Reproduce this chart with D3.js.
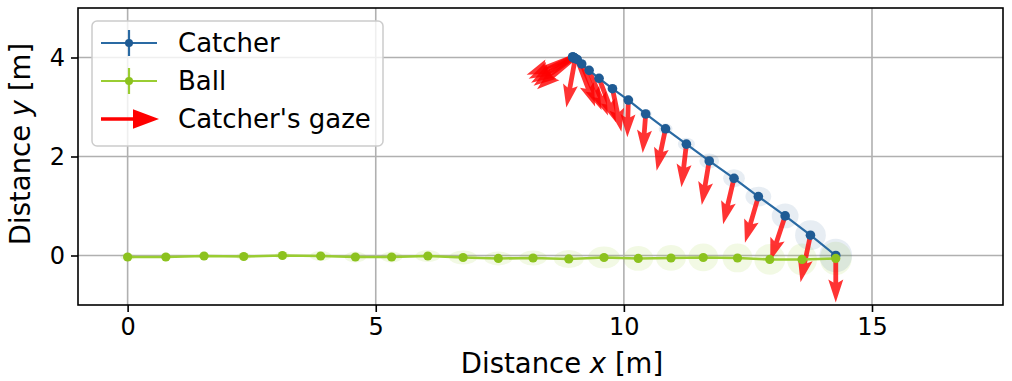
<!DOCTYPE html>
<html>
<head>
<meta charset="utf-8">
<script src="https://cdn.jsdelivr.net/npm/d3@7"></script>
<style>
  html, body { margin: 0; padding: 0; background: #fff; }
  svg { display: block; font-family: "DejaVu Sans", sans-serif; }
</style>
</head>
<body>
<svg id="chart" width="1012" height="381"></svg>
<script>
// Catcher track (m), with positional uncertainty (m)
const catcherX = [8.97, 8.97, 8.98, 8.99, 9.00, 9.02, 9.06, 9.15, 9.30, 9.50, 9.77, 10.09, 10.44, 10.84, 11.26, 11.72, 12.22, 12.71, 13.25, 13.76, 14.27];
const catcherY = [4.01, 4.01, 4.00, 4.00, 3.99, 3.98, 3.96, 3.87, 3.74, 3.58, 3.37, 3.14, 2.86, 2.56, 2.25, 1.91, 1.56, 1.19, 0.80, 0.41, 0.00];
const catcherSdX = [0.04, 0.04, 0.04, 0.05, 0.05, 0.06, 0.06, 0.07, 0.08, 0.09, 0.10, 0.11, 0.12, 0.14, 0.17, 0.20, 0.22, 0.26, 0.27, 0.31, 0.33];
const catcherSdY = [0.04, 0.04, 0.04, 0.05, 0.05, 0.06, 0.06, 0.07, 0.08, 0.08, 0.08, 0.09, 0.10, 0.11, 0.13, 0.15, 0.18, 0.20, 0.25, 0.30, 0.34];

// Ball track (m), with positional uncertainty (m)
const ballX = [0.00, 0.77, 1.54, 2.34, 3.12, 3.89, 4.59, 5.32, 6.05, 6.76, 7.47, 8.17, 8.89, 9.60, 10.29, 10.95, 11.60, 12.29, 12.94, 13.59, 14.27];
const ballY = [-0.03, -0.03, -0.01, -0.02, 0.00, -0.01, -0.03, -0.03, -0.01, -0.04, -0.06, -0.05, -0.07, -0.04, -0.06, -0.05, -0.04, -0.05, -0.08, -0.08, -0.06];
const ballSdX = [0.15, 0.10, 0.10, 0.15, 0.15, 0.22, 0.22, 0.22, 0.25, 0.28, 0.28, 0.28, 0.30, 0.32, 0.30, 0.30, 0.30, 0.30, 0.31, 0.30, 0.32];
const ballSdY = [0.07, 0.06, 0.06, 0.08, 0.08, 0.10, 0.11, 0.11, 0.12, 0.14, 0.14, 0.15, 0.18, 0.22, 0.25, 0.26, 0.28, 0.29, 0.31, 0.32, 0.34];

// Catcher's gaze direction at each sample (m)
const gazeU = [-0.93, -0.89, -0.85, -0.81, -0.75, -0.18, 0.36, 0.40, 0.38, 0.34, 0.18, -0.02, -0.06, -0.18, -0.10, -0.15, -0.22, -0.27, -0.30, -0.20, 0.00];
const gazeV = [-0.36, -0.44, -0.51, -0.57, -0.63, -0.99, -0.95, -0.93, -0.91, -0.89, -0.87, -0.75, -0.79, -0.85, -0.87, -0.89, -0.93, -0.93, -0.91, -0.95, -0.95];

// Axis ticks
const xTicks = [0, 5, 10, 15];
const yTicks = [0, 2, 4];

const svg = d3.select("#chart");
const padL = 78, padR = 1003, padT = 8, padB = 305;
const x = d3.scaleLinear().domain([-1, 17.64]).range([padL, padR]);
const y = d3.scaleLinear().domain([-1, 5]).range([padB, padT]);
const tickFont = 24, labelFont = 27.5, legendFont = 26;

const blue = "#2a6aa3", blueDot = "#1f5b94";
const green = "#9acd32", greenDot = "#8cc21e";

// Grid
const grid = svg.append("g");
grid.selectAll("line.gx").data(xTicks).join("line")
  .attr("x1", d => x(d)).attr("x2", d => x(d))
  .attr("y1", padT).attr("y2", padB)
  .attr("stroke", "#b0b0b0").attr("stroke-width", 1.6);
grid.selectAll("line.gy").data(yTicks).join("line")
  .attr("y1", d => y(d)).attr("y2", d => y(d))
  .attr("x1", padL).attr("x2", padR)
  .attr("stroke", "#b0b0b0").attr("stroke-width", 1.6);

const plot = svg.append("g");
const kx = x(1) - x(0), ky = y(0) - y(1);

// Uncertainty ellipses
plot.append("g").selectAll("ellipse").data(d3.range(ballX.length)).join("ellipse")
  .attr("cx", i => x(ballX[i])).attr("cy", i => y(ballY[i]))
  .attr("rx", i => ballSdX[i] * kx).attr("ry", i => ballSdY[i] * ky)
  .attr("fill", "rgb(154,205,50)").attr("fill-opacity", 0.13);
plot.append("g").selectAll("ellipse").data(d3.range(catcherX.length)).join("ellipse")
  .attr("cx", i => x(catcherX[i])).attr("cy", i => y(catcherY[i]))
  .attr("rx", i => catcherSdX[i] * kx).attr("ry", i => catcherSdY[i] * ky)
  .attr("fill", "rgb(40,90,150)").attr("fill-opacity", 0.11);

// Gaze arrows (quiver-style)
const shaftW = 4.8, headW = 15, headL = 23, headAxL = 20;
function arrowPath(L) {
  const hl = Math.min(headL, L), hal = Math.min(headAxL, L);
  return [[0, -shaftW / 2], [L - hal, -shaftW / 2], [L - hl, -headW / 2], [L, 0],
          [L - hl, headW / 2], [L - hal, shaftW / 2], [0, shaftW / 2]];
}
plot.append("g").selectAll("path").data(d3.range(gazeU.length)).join("path")
  .attr("d", i => {
    const x0 = x(catcherX[i]), y0 = y(catcherY[i]);
    const x1 = x(catcherX[i] + gazeU[i]), y1 = y(catcherY[i] + gazeV[i]);
    const L = Math.hypot(x1 - x0, y1 - y0);
    return d3.line()(arrowPath(L)) + "Z";
  })
  .attr("transform", i => {
    const x0 = x(catcherX[i]), y0 = y(catcherY[i]);
    const x1 = x(catcherX[i] + gazeU[i]), y1 = y(catcherY[i] + gazeV[i]);
    const a = Math.atan2(y1 - y0, x1 - x0) * 180 / Math.PI;
    return `translate(${x0},${y0}) rotate(${a})`;
  })
  .attr("fill", "red").attr("fill-opacity", 0.8);

// Catcher track
const catcherPts = catcherX.map((v, i) => [x(v), y(catcherY[i])]);
plot.append("path").attr("d", d3.line()(catcherPts))
  .attr("fill", "none").attr("stroke", blue).attr("stroke-width", 2.2);
plot.append("g").selectAll("circle").data(catcherPts).join("circle")
  .attr("cx", d => d[0]).attr("cy", d => d[1]).attr("r", 4.8).attr("fill", blueDot);

// Ball track
const ballPts = ballX.map((v, i) => [x(v), y(ballY[i])]);
plot.append("path").attr("d", d3.line()(ballPts))
  .attr("fill", "none").attr("stroke", green).attr("stroke-width", 2.6);
plot.append("g").selectAll("circle").data(ballPts).join("circle")
  .attr("cx", d => d[0]).attr("cy", d => d[1]).attr("r", 4.6).attr("fill", greenDot);

// Frame
svg.append("rect").attr("x", padL).attr("y", padT)
  .attr("width", padR - padL).attr("height", padB - padT)
  .attr("fill", "none").attr("stroke", "#000").attr("stroke-width", 1.6);

// Axes
const xAxis = svg.append("g").attr("transform", `translate(0,${padB})`)
  .call(d3.axisBottom(x).tickValues(xTicks).tickSize(7).tickPadding(6).tickFormat(d3.format("d")));
const yAxis = svg.append("g").attr("transform", `translate(${padL},0)`)
  .call(d3.axisLeft(y).tickValues(yTicks).tickSize(7).tickPadding(6).tickFormat(d3.format("d")));
[xAxis, yAxis].forEach(g => {
  g.select(".domain").remove();
  g.selectAll(".tick line").attr("stroke", "#000").attr("stroke-width", 1.6);
  g.selectAll(".tick text").attr("fill", "#000")
    .style("font-family", '"DejaVu Sans", sans-serif').style("font-size", tickFont + "px");
});

// Axis labels
const xl = svg.append("text").attr("x", 562).attr("y", 373)
  .attr("text-anchor", "middle").style("font-size", labelFont + "px");
xl.append("tspan").text("Distance ");
xl.append("tspan").attr("font-style", "italic").text("x");
xl.append("tspan").text(" [m]");

const yl = svg.append("text").attr("transform", "translate(30,144) rotate(-90)")
  .attr("text-anchor", "middle").style("font-size", labelFont + "px");
yl.append("tspan").text("Distance ");
yl.append("tspan").attr("font-style", "italic").text("y");
yl.append("tspan").text(" [m]");

// Legend
const lg = svg.append("g");
lg.append("rect").attr("x", 92).attr("y", 21).attr("width", 291).attr("height", 125).attr("rx", 5)
  .attr("fill", "#fff").attr("fill-opacity", 0.8).attr("stroke", "#cccccc").attr("stroke-width", 1.5);
const legendItems = [
  { label: "Catcher", color: blue, dot: blueDot, kind: "track" },
  { label: "Ball", color: green, dot: greenDot, kind: "track" },
  { label: "Catcher's gaze", color: "red", kind: "arrow" }
];
const rowY = [43, 81, 119];
legendItems.forEach((it, i) => {
  const yy = rowY[i];
  if (it.kind === "track") {
    lg.append("line").attr("x1", 101).attr("x2", 157).attr("y1", yy).attr("y2", yy)
      .attr("stroke", it.color).attr("stroke-width", 2.2);
    lg.append("line").attr("x1", 129).attr("x2", 129).attr("y1", yy - 13).attr("y2", yy + 13)
      .attr("stroke", it.color).attr("stroke-width", 2.2);
    lg.append("circle").attr("cx", 129).attr("cy", yy).attr("r", 4).attr("fill", it.dot);
  } else {
    lg.append("path")
      .attr("d", `M101,${yy - 1.8}H133V${yy - 9.7}L159,${yy}L133,${yy + 9.7}V${yy + 1.8}H101Z`)
      .attr("fill", it.color);
  }
  lg.append("text").attr("x", 178).attr("y", yy).attr("dy", "0.36em")
    .style("font-size", legendFont + "px").text(it.label);
});
</script>
</body>
</html>
